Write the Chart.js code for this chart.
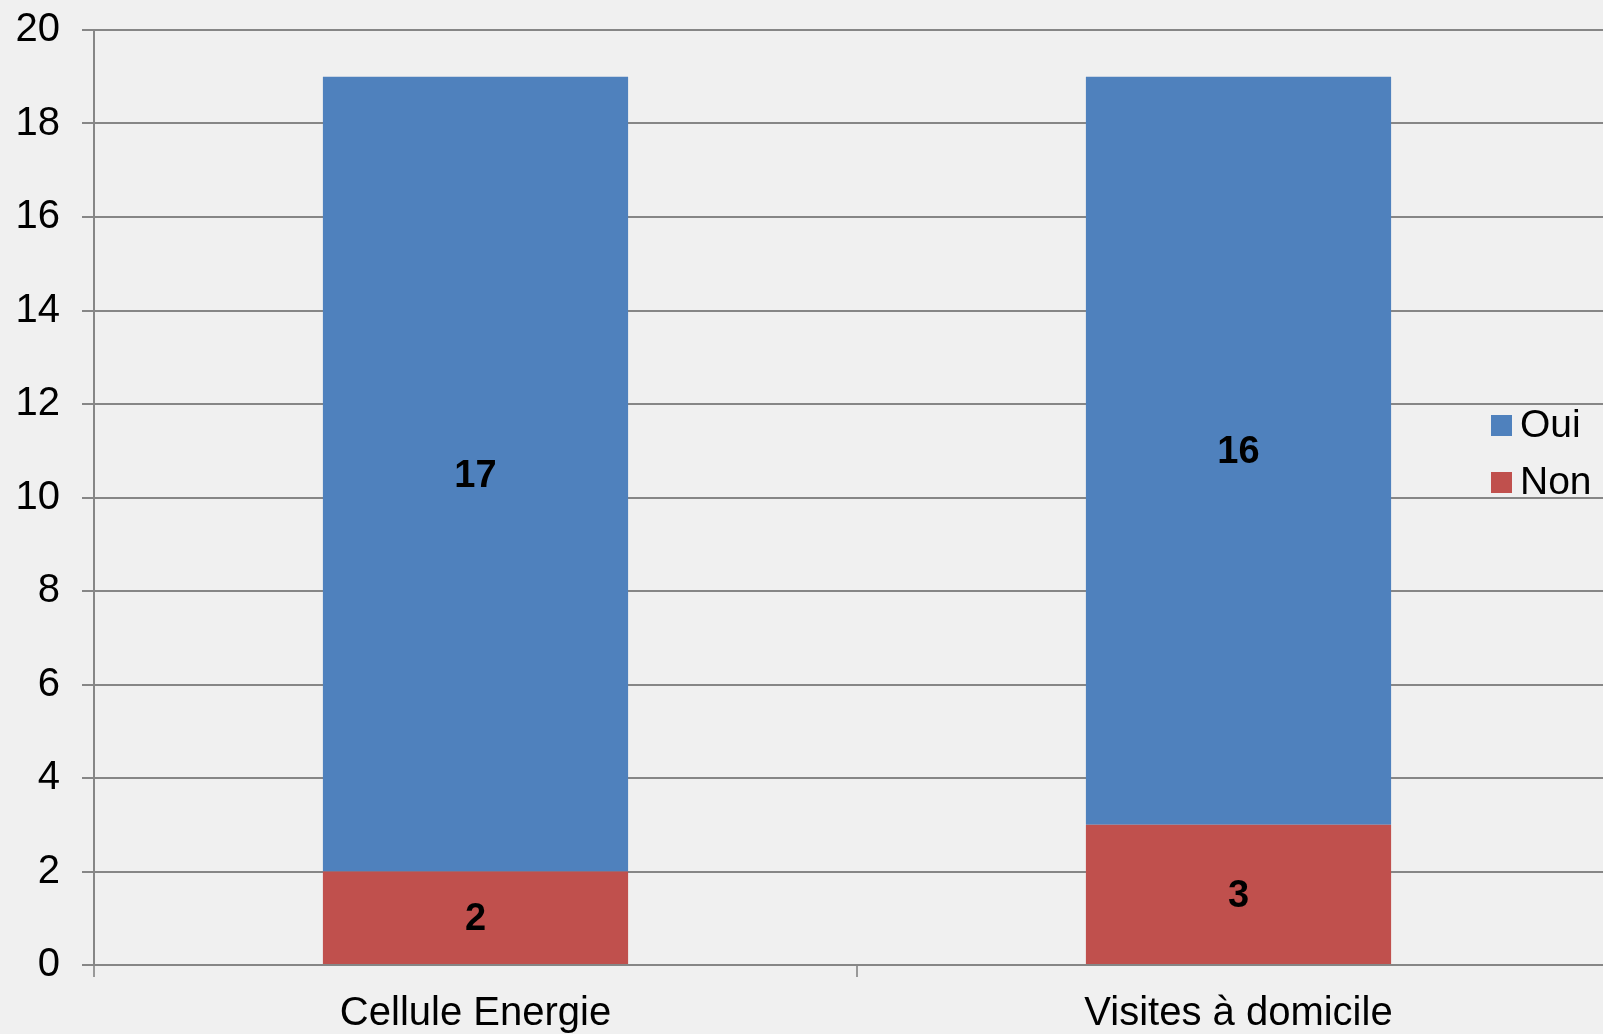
<!DOCTYPE html>
<html>
<head>
<meta charset="utf-8">
<script src="https://cdn.jsdelivr.net/npm/chart.js@4"></script>
<style>
  html, body { margin: 0; padding: 0; background: #f0f0f0; overflow: hidden; }
  #wrap { width: 1640px; height: 1034px; }
</style>
</head>
<body>
<div id="wrap"><canvas id="myChart"></canvas></div>
<script>
const categories = ["Cellule Energie", "Visites à domicile"];
const ouiValues = [17, 16];
const nonValues = [2, 3];
const yTicks = [0, 2, 4, 6, 8, 10, 12, 14, 16, 18, 20];

const FONT = "'Liberation Sans', Arial, sans-serif";
const GRID = "#868686";

// valeurs au centre des segments
const labelPlugin = {
  id: "labelPlugin",
  afterDatasetsDraw(chart) {
    const { ctx } = chart;
    ctx.save();
    ctx.fillStyle = "#000";
    ctx.font = "bold 38px " + FONT;
    ctx.textAlign = "center";
    ctx.textBaseline = "middle";
    chart.data.datasets.forEach((dataset, i) => {
      const meta = chart.getDatasetMeta(i);
      meta.data.forEach((el, index) => {
        const c = el.getCenterPoint();
        ctx.fillText(dataset.data[index], c.x, c.y + 2);
      });
    });
    ctx.restore();
  },
};

// légende à droite, par-dessus la grille
const legendPlugin = {
  id: "legendPlugin",
  afterDraw(chart) {
    const { ctx } = chart;
    const items = chart.data.datasets.slice().reverse();
    ctx.save();
    ctx.font = "39px " + FONT;
    ctx.textBaseline = "middle";
    ctx.textAlign = "left";
    items.forEach((ds, k) => {
      const cy = 425 + k * 57;
      ctx.fillStyle = ds.backgroundColor;
      ctx.fillRect(1491, cy - 10, 21, 21);
      ctx.fillStyle = "#000";
      ctx.fillText(ds.label, 1520, cy + 1);
    });
    ctx.restore();
  },
};

new Chart(document.getElementById("myChart"), {
  type: "bar",
  data: {
    labels: categories,
    datasets: [
      {
        label: "Non",
        data: nonValues,
        backgroundColor: "#c0504d",
        categoryPercentage: 0.4,
        barPercentage: 1,
      },
      {
        label: "Oui",
        data: ouiValues,
        backgroundColor: "#4f81bd",
        categoryPercentage: 0.4,
        barPercentage: 1,
      },
    ],
  },
  options: {
    responsive: true,
    maintainAspectRatio: false,
    animation: false,
    layout: {
      padding: { top: 30, right: 20, left: 0, bottom: 0 },
    },
    plugins: {
      legend: { display: false },
      tooltip: { enabled: false },
    },
    scales: {
      x: {
        stacked: true,
        afterFit: (scale) => {
          scale.height = 69;
          scale.paddingLeft = 0;
          scale.paddingRight = 0;
        },
        grid: {
          offset: true,
          drawOnChartArea: false,
          drawTicks: true,
          tickLength: 12,
          color: "#999",
          lineWidth: 2,
        },
        border: { color: GRID, width: 2 },
        ticks: {
          color: "#000",
          padding: 13,
          font: { family: FONT, size: 40 },
        },
      },
      y: {
        stacked: true,
        min: 0,
        max: 20,
        afterFit: (scale) => {
          scale.width = 94;
          scale.paddingTop = 0;
          scale.paddingBottom = 0;
        },
        afterBuildTicks: (scale) => {
          scale.ticks = yTicks.map((v) => ({ value: v }));
        },
        grid: {
          color: GRID,
          lineWidth: 2,
          tickLength: 12,
        },
        border: { color: GRID, width: 2 },
        ticks: {
          color: "#000",
          padding: 22,
          font: { family: FONT, size: 40 },
        },
      },
    },
  },
  plugins: [labelPlugin, legendPlugin],
});
</script>
</body>
</html>
